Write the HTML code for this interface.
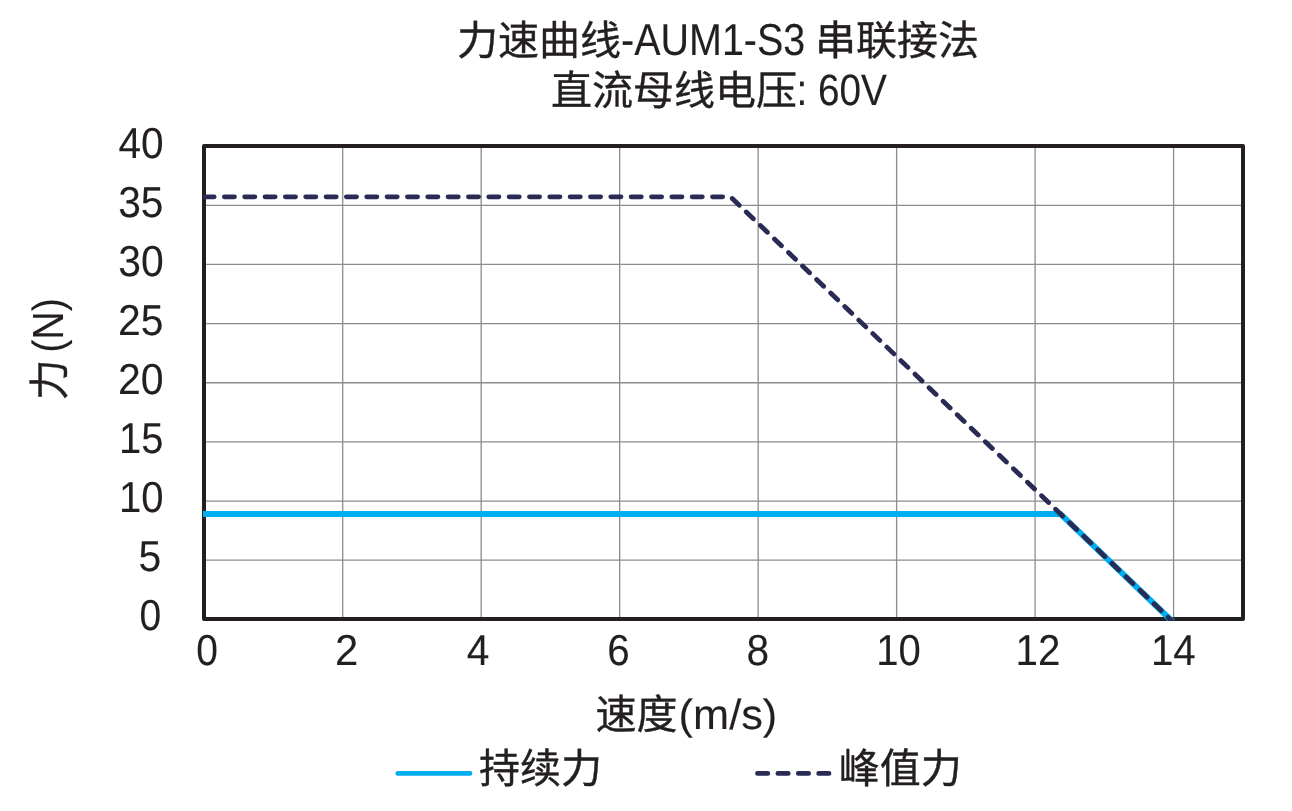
<!DOCTYPE html>
<html lang="zh-CN">
<head>
<meta charset="utf-8">
<title>力速曲线-AUM1-S3 串联接法</title>
<style>
html,body{margin:0;padding:0;background:#fff;}
body{width:1292px;height:811px;overflow:hidden;}
svg{display:block;}
text{font-family:"Liberation Sans", "Noto Sans CJK SC", sans-serif;font-size:41px;fill:#231f20;stroke:#231f20;stroke-width:0.4px;text-rendering:geometricPrecision;}
.grid line{stroke:#8b8c8f;stroke-width:1.3;}
</style>
</head>
<body>
<svg width="1292" height="811" viewBox="0 0 1292 811">
<rect x="0" y="0" width="1292" height="811" fill="#ffffff"/>
<defs><clipPath id="plotclip"><rect x="203.0" y="144.0" width="1042.0" height="476.9"/></clipPath></defs>
<g class="grid">
<line x1="342.70" y1="146.0" x2="342.70" y2="618.9"/>
<line x1="481.18" y1="146.0" x2="481.18" y2="618.9"/>
<line x1="619.66" y1="146.0" x2="619.66" y2="618.9"/>
<line x1="758.14" y1="146.0" x2="758.14" y2="618.9"/>
<line x1="896.62" y1="146.0" x2="896.62" y2="618.9"/>
<line x1="1035.10" y1="146.0" x2="1035.10" y2="618.9"/>
<line x1="1173.58" y1="146.0" x2="1173.58" y2="618.9"/>
<line x1="204.0" y1="560.20" x2="1243.0" y2="560.20"/>
<line x1="204.0" y1="501.05" x2="1243.0" y2="501.05"/>
<line x1="204.0" y1="441.90" x2="1243.0" y2="441.90"/>
<line x1="204.0" y1="382.75" x2="1243.0" y2="382.75"/>
<line x1="204.0" y1="323.60" x2="1243.0" y2="323.60"/>
<line x1="204.0" y1="264.45" x2="1243.0" y2="264.45"/>
<line x1="204.0" y1="205.30" x2="1243.0" y2="205.30"/>
</g>
<rect x="204.0" y="146.0" width="1039.0" height="472.90" fill="none" stroke="#231f20" stroke-width="4" stroke-linejoin="round"/>
<g clip-path="url(#plotclip)" fill="none">
<polyline points="203.0,513.9 1060.43,513.9 1172.70,621.78" stroke="#00adee" stroke-width="6" stroke-linejoin="miter"/>
<line x1="204.0" y1="196.85" x2="730.5" y2="196.85" stroke="#2a2b55" stroke-width="4.8" stroke-linecap="round" stroke-dasharray="10.17 10.17"/>
<line x1="730.5" y1="196.85" x2="1172.70" y2="621.78" stroke="#2a2b55" stroke-width="4.8" stroke-linecap="round" stroke-dasharray="9.73 9.77" stroke-dashoffset="-2.4"/>
</g>
<text y="54.8"><tspan x="457.05">力速曲线</tspan><tspan x="621.11" style="font-size:44.61px;stroke-width:0.1px" textLength="184.13" lengthAdjust="spacingAndGlyphs">-AUM1-S3</tspan> <tspan x="814.95">串联接法</tspan></text>
<text y="104.7"><tspan x="551.06">直流母线电压</tspan><tspan x="796.45" style="font-size:43.81px;stroke-width:0.1px" textLength="90.46" lengthAdjust="spacingAndGlyphs">: 60V</tspan></text>
<text y="630.39"><tspan x="139.52" style="font-size:43.41px;stroke-width:0.1px" textLength="21.70" lengthAdjust="spacingAndGlyphs">0</tspan></text>
<text y="571.31"><tspan x="138.49" style="font-size:43.23px;stroke-width:0.1px" textLength="22.80" lengthAdjust="spacingAndGlyphs">5</tspan></text>
<text y="512.23"><tspan x="119.10" style="font-size:43.41px;stroke-width:0.1px" textLength="44.54" lengthAdjust="spacingAndGlyphs">10</tspan></text>
<text y="453.15"><tspan x="119.11" style="font-size:43.23px;stroke-width:0.1px" textLength="44.39" lengthAdjust="spacingAndGlyphs">15</tspan></text>
<text y="394.07"><tspan x="118.07" style="font-size:43.41px;stroke-width:0.1px" textLength="45.61" lengthAdjust="spacingAndGlyphs">20</tspan></text>
<text y="334.99"><tspan x="118.08" style="font-size:43.41px;stroke-width:0.1px" textLength="45.46" lengthAdjust="spacingAndGlyphs">25</tspan></text>
<text y="275.91"><tspan x="118.22" style="font-size:43.41px;stroke-width:0.1px" textLength="45.46" lengthAdjust="spacingAndGlyphs">30</tspan></text>
<text y="216.83"><tspan x="118.22" style="font-size:43.41px;stroke-width:0.1px" textLength="45.31" lengthAdjust="spacingAndGlyphs">35</tspan></text>
<text y="157.75"><tspan x="118.49" style="font-size:43.41px;stroke-width:0.1px" textLength="45.17" lengthAdjust="spacingAndGlyphs">40</tspan></text>
<text y="665"><tspan x="196.32" style="font-size:43.41px;stroke-width:0.1px" textLength="21.70" lengthAdjust="spacingAndGlyphs">0</tspan></text>
<text y="665"><tspan x="335.06" style="font-size:43.41px;stroke-width:0.1px" textLength="23.30" lengthAdjust="spacingAndGlyphs">2</tspan></text>
<text y="665"><tspan x="466.70" style="font-size:43.23px;stroke-width:0.1px" textLength="22.66" lengthAdjust="spacingAndGlyphs">4</tspan></text>
<text y="665"><tspan x="607.24" style="font-size:43.41px;stroke-width:0.1px" textLength="22.48" lengthAdjust="spacingAndGlyphs">6</tspan></text>
<text y="665"><tspan x="746.47" style="font-size:43.41px;stroke-width:0.1px" textLength="22.64" lengthAdjust="spacingAndGlyphs">8</tspan></text>
<text y="665"><tspan x="876.18" style="font-size:43.41px;stroke-width:0.1px" textLength="44.54" lengthAdjust="spacingAndGlyphs">10</tspan></text>
<text y="665"><tspan x="1015.54" style="font-size:43.41px;stroke-width:0.1px" textLength="44.84" lengthAdjust="spacingAndGlyphs">12</tspan></text>
<text y="665"><tspan x="1150.92" style="font-size:43.23px;stroke-width:0.1px" textLength="44.85" lengthAdjust="spacingAndGlyphs">14</tspan></text>
<text y="729"><tspan x="595.52">速度</tspan><tspan x="678.61" style="font-size:42.27px;stroke-width:0.1px" textLength="98.69" lengthAdjust="spacingAndGlyphs">(m/s)</tspan></text>
<text transform="translate(63.7 348.5) rotate(-90)" y="0"><tspan x="-51.68">力</tspan> <tspan dy="-1.2" x="-4.36" style="font-size:43.57px;stroke-width:0.1px" textLength="54.82" lengthAdjust="spacingAndGlyphs">(N)</tspan></text>
<line x1="397.8" y1="773.4" x2="470" y2="773.4" stroke="#00adee" stroke-width="4.7" stroke-linecap="round"/>
<text x="479" y="782.9">持续力</text>
<line x1="757.5" y1="773.4" x2="830" y2="773.4" stroke="#2a2b55" stroke-width="4.8" stroke-linecap="round" stroke-dasharray="10.3 10.1"/>
<text x="838.8" y="782.9">峰值力</text>
</svg>
</body>
</html>
